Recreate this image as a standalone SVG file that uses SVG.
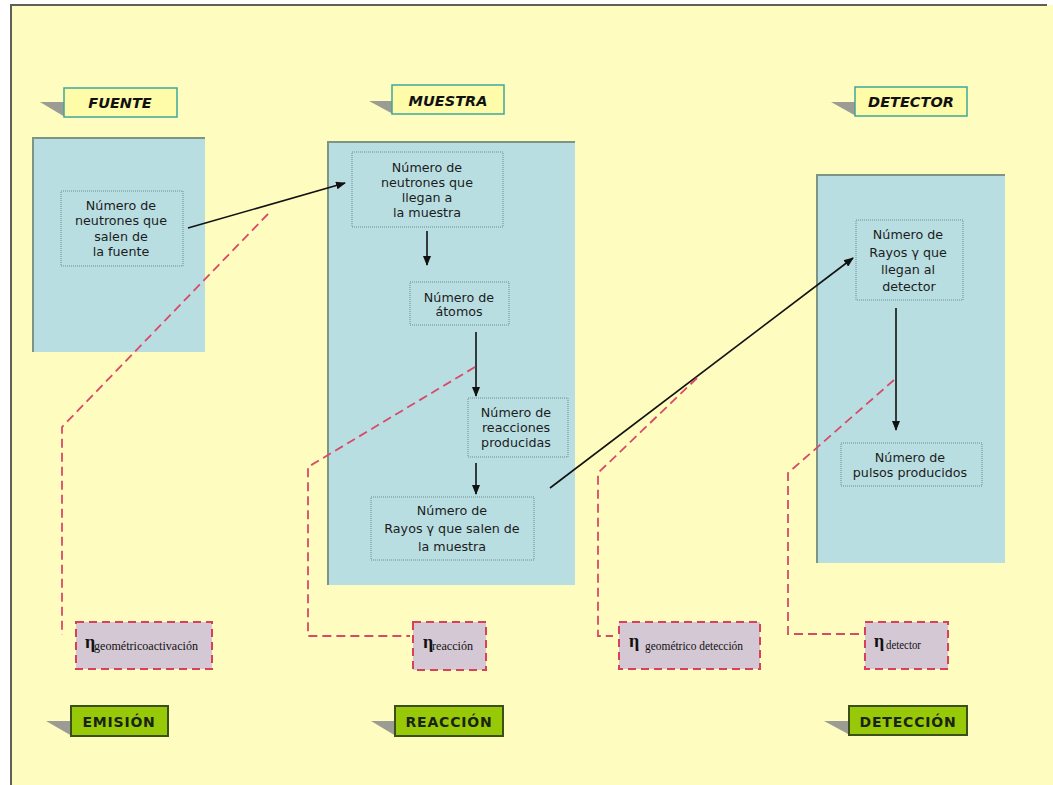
<svg xmlns="http://www.w3.org/2000/svg" width="1053" height="785" viewBox="0 0 1053 785">
<defs>
<marker id="ah" markerUnits="userSpaceOnUse" markerWidth="10" markerHeight="8" refX="9" refY="4" orient="auto">
<path d="M0,0 L10,4 L0,8 z" fill="#111"/>
</marker>
<style>
.panel{fill:#B9DEE2}
.pedge{fill:none;stroke:#7E9585;stroke-width:2}
.nbox{fill:none;stroke:#6E8C8C;stroke-width:1;stroke-dasharray:1,1}
.nt{font-family:"DejaVu Sans",Verdana,sans-serif;font-size:12.7px;fill:#1c1c1c;text-anchor:middle}
.ttl{fill:#FEFBA9;stroke:#3FA79B;stroke-width:1.5}
.tt{font-family:"DejaVu Sans",Verdana,sans-serif;font-size:14.5px;font-weight:bold;font-style:italic;fill:#111;text-anchor:middle}
.shd{fill:#9C9C94}
.grn{fill:#97C908;stroke:#3A4F1A;stroke-width:2}
.gt{font-family:"DejaVu Sans",Verdana,sans-serif;font-size:14px;font-weight:bold;fill:#1A2410;text-anchor:middle;letter-spacing:0.8px}
.eta{fill:#D5C8D5;stroke:#D8405E;stroke-width:2;stroke-dasharray:8,5}
.et{font-family:"Liberation Serif","Times New Roman",serif;fill:#111}
.eg{font-size:18px;font-weight:bold}
.es{font-size:12px}
.ar{fill:none;stroke:#111;stroke-width:1.6;marker-end:url(#ah)}
.dl{fill:none;stroke:#D94A68;stroke-width:1.8;stroke-dasharray:9,5}
</style>
</defs>
<rect x="0" y="0" width="1053" height="785" fill="#FFFFFF"/>
<rect x="11" y="5" width="1042" height="780" fill="#FFFCBF"/>
<path d="M11,785 L11,5 L1047,5" fill="none" stroke="#5E6158" stroke-width="2"/>

<g id="panel-fuente">
<rect class="panel" x="32" y="137" width="173" height="215"/>
<path class="pedge" d="M33,352 L33,138 L205,138"/>
</g>
<g id="panel-muestra">
<rect class="panel" x="327" y="141" width="248" height="444"/>
<path class="pedge" d="M328,585 L328,142 L575,142"/>
</g>
<g id="panel-detector">
<rect class="panel" x="816" y="174" width="189" height="389"/>
<path class="pedge" d="M817,563 L817,175 L1005,175"/>
</g>

<g id="label-fuente">
<polygon class="shd" points="40,102 65,102 65,117"/>
<rect class="ttl" x="64" y="88" width="113" height="29"/>
<text class="tt" x="120" y="107.5">FUENTE</text>
</g>
<g id="label-muestra">
<polygon class="shd" points="369,101 393,101 393,114"/>
<rect class="ttl" x="392" y="85" width="112" height="29"/>
<text class="tt" x="448" y="106">MUESTRA</text>
</g>
<g id="label-detector">
<polygon class="shd" points="831,102 856,102 856,116"/>
<rect class="ttl" x="855" y="87" width="112" height="29"/>
<text class="tt" x="911" y="107">DETECTOR</text>
</g>

<g id="n-salen-fuente">
<rect class="nbox" x="61" y="191" width="122" height="75"/>
<text class="nt" x="121" y="209.5">Número de</text>
<text class="nt" x="121" y="225">neutrones que</text>
<text class="nt" x="121" y="240.5">salen de</text>
<text class="nt" x="121" y="256">la fuente</text>
</g>
<g id="n-llegan-muestra">
<rect class="nbox" x="352" y="152" width="151" height="75"/>
<text class="nt" x="427" y="171.5">Número de</text>
<text class="nt" x="427" y="186.5">neutrones que</text>
<text class="nt" x="427" y="201.5">llegan a</text>
<text class="nt" x="427" y="216.5">la muestra</text>
</g>
<g id="n-atomos">
<rect class="nbox" x="410" y="282" width="99" height="43"/>
<text class="nt" x="459" y="301.5">Número de</text>
<text class="nt" x="459" y="315.5">átomos</text>
</g>
<g id="n-reacciones">
<rect class="nbox" x="468" y="398" width="100" height="59"/>
<text class="nt" x="516" y="416.5">Número de</text>
<text class="nt" x="516" y="431.5">reacciones</text>
<text class="nt" x="516" y="446.5">producidas</text>
</g>
<g id="n-rayos-salen">
<rect class="nbox" x="371" y="497" width="163" height="63"/>
<text class="nt" x="452" y="515">Número de</text>
<text class="nt" x="452" y="533">Rayos γ que salen de</text>
<text class="nt" x="452" y="551">la muestra</text>
</g>
<g id="n-rayos-llegan">
<rect class="nbox" x="856" y="220" width="107" height="80"/>
<text class="nt" x="908" y="238.5">Número de</text>
<text class="nt" x="908" y="256.5">Rayos γ que</text>
<text class="nt" x="908" y="274">llegan al</text>
<text class="nt" x="909" y="291">detector</text>
</g>
<g id="n-pulsos">
<rect class="nbox" x="841" y="443" width="141" height="43"/>
<text class="nt" x="910" y="461.5">Número de</text>
<text class="nt" x="910" y="476.5">pulsos producidos</text>
</g>

<g id="connectors">
<path class="ar" d="M188,228 L345,183"/>
<path class="ar" d="M427,231 L427,265"/>
<path class="ar" d="M476,332 L476,396"/>
<path class="ar" d="M476,463 L476,494"/>
<path class="ar" d="M550,488 L853,258"/>
<path class="ar" d="M896,308 L896,430"/>
<path class="dl" d="M268,214 L62,427 L62,635"/>
<path class="dl" d="M475,367 L308,467 L308,636 L410,636"/>
<path class="dl" d="M697,378 L598,473 L598,636 L613,636"/>
<path class="dl" d="M894,380 L788,473 L788,634 L860,634"/>
</g>

<g id="eta-activacion">
<rect class="eta" x="76" y="622" width="136" height="47"/>
<text class="et eg" x="85" y="648">η</text>
<text class="et es" x="94" y="650" textLength="104" lengthAdjust="spacingAndGlyphs">geométricoactivación</text>
</g>
<g id="eta-reaccion">
<rect class="eta" x="413" y="622" width="73" height="48"/>
<text class="et eg" x="423" y="648">η</text>
<text class="et es" x="432" y="650" textLength="41" lengthAdjust="spacingAndGlyphs">reacción</text>
</g>
<g id="eta-deteccion">
<rect class="eta" x="619" y="622" width="141" height="47"/>
<text class="et eg" x="629" y="647">η</text>
<text class="et es" x="645" y="650" textLength="98" lengthAdjust="spacingAndGlyphs">geométrico detección</text>
</g>
<g id="eta-detector">
<rect class="eta" x="865" y="622" width="83" height="47"/>
<text class="et eg" x="874" y="647">η</text>
<text class="et es" x="886" y="649" textLength="35" lengthAdjust="spacingAndGlyphs">detector</text>
</g>

<g id="label-emision">
<polygon class="shd" points="46,721 72,721 72,736"/>
<rect class="grn" x="71" y="706" width="97" height="30"/>
<text class="gt" x="119" y="727">EMISIÓN</text>
</g>
<g id="label-reaccion">
<polygon class="shd" points="371,721 396,721 396,736"/>
<rect class="grn" x="395" y="706" width="108" height="30"/>
<text class="gt" x="449" y="727">REACCIÓN</text>
</g>
<g id="label-deteccion">
<polygon class="shd" points="824,721 850,721 850,735"/>
<rect class="grn" x="849" y="706" width="118" height="29"/>
<text class="gt" x="908" y="727">DETECCIÓN</text>
</g>
</svg>
